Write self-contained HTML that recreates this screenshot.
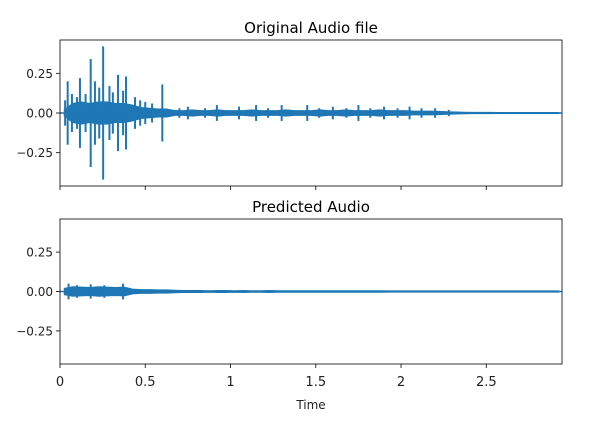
<!DOCTYPE html>
<html><head><meta charset="utf-8">
<style>
body{margin:0;background:#fff;}
svg{display:block;font-family:"DejaVu Sans","Liberation Sans",sans-serif;}
</style></head>
<body>
<svg id="chart" width="607" height="426" viewBox="0 0 607 426"></svg>
<script>
// time grid for envelopes (seconds, step 0.05)
const envStep = 0.05;
const origEnvelope = [0.02,0.06,0.07,0.06,0.07,0.07,0.06,0.06,0.05,0.035,0.03,0.025,0.025,0.015,0.015,0.02,0.015,0.015,0.02,0.015,0.015,0.015,0.02,0.015,0.015,0.015,0.02,0.015,0.015,0.015,0.02,0.015,0.015,0.02,0.015,0.015,0.015,0.02,0.015,0.015,0.015,0.012,0.012,0.012,0.01,0.008,0.006,0.005,0.004,0.004,0.004,0.003,0.003,0.003,0.003,0.003,0.003,0.003,0.003];
const origSpikeTimes = [0.03,0.045,0.07,0.1,0.117,0.15,0.18,0.205,0.23,0.253,0.29,0.31,0.34,0.37,0.387,0.44,0.47,0.5,0.54,0.6,0.7,0.75,0.85,0.92,1.05,1.15,1.22,1.3,1.45,1.52,1.6,1.68,1.75,1.82,1.9,1.98,2.05,2.12,2.2,2.28];
const origSpikeAmps  = [0.08,0.2,0.12,0.1,0.22,0.12,0.34,0.2,0.16,0.42,0.17,0.13,0.24,0.14,0.23,0.1,0.08,0.07,0.06,0.18,0.03,0.04,0.03,0.05,0.04,0.05,0.03,0.05,0.05,0.03,0.04,0.03,0.05,0.03,0.04,0.03,0.04,0.03,0.03,0.02];
const predEnvelope = [0.02,0.03,0.028,0.025,0.03,0.028,0.025,0.028,0.015,0.012,0.012,0.01,0.01,0.008,0.006,0.006,0.006,0.005,0.006,0.006,0.005,0.006,0.005,0.005,0.006,0.005,0.005,0.005,0.005,0.005,0.005,0.005,0.005,0.005,0.005,0.005,0.005,0.005,0.004,0.004,0.004,0.004,0.004,0.004,0.004,0.004,0.004,0.004,0.004,0.004,0.004,0.004,0.004,0.004,0.004,0.004,0.004,0.004,0.004];
const predSpikeTimes = [0.05,0.1,0.18,0.26,0.37];
const predSpikeAmps  = [0.05,0.04,0.045,0.04,0.05];
const xTicks = [0,0.5,1,1.5,2,2.5];
const xTickLabels = ["0","0.5","1","1.5","2","2.5"];
const yTicks = [0.25,0,-0.25];
const yTickLabels = ["0.25","0.00","\u22120.25"];

const svg = document.getElementById('chart');
const NS = 'http://www.w3.org/2000/svg';
const X0 = 60, X1 = 562, TMAX = 2.944;
function xs(t){ return X0 + t/TMAX*(X1-X0); }
function mk(tag, attrs, parent){
  const e = document.createElementNS(NS, tag);
  for (const k in attrs) e.setAttribute(k, attrs[k]);
  (parent||svg).appendChild(e); return e;
}
const panels = [
  {top:40, bot:186, title:"Original Audio file", env:origEnvelope, st:origSpikeTimes, sa:origSpikeAmps, labels:false, name:'original'},
  {top:219, bot:364, title:"Predicted Audio", env:predEnvelope, st:predSpikeTimes, sa:predSpikeAmps, labels:true, name:'predicted'}
];
panels.forEach(p => {
  const g = mk('g', {});
  
  
  const mid = (p.top+p.bot)/2, scale = (p.bot-p.top)/0.92;
  const ys = v => mid - v*scale;
  let up = '', dn = '';
  p.env.forEach((a,i) => {
    const t = Math.min((i+0.5)*envStep, TMAX);
    up += (i? 'L':'M') + xs(t) + ',' + ys(a);
  });
  for (let i = p.env.length-1; i >= 0; i--) {
    const t = Math.min((i+0.5)*envStep, TMAX);
    dn += 'L' + xs(t) + ',' + ys(-p.env[i]);
  }
  const area = mk('path', {d: up + dn + 'Z', fill:'#1f77b4', stroke:'#1f77b4', 'stroke-width':1}, g);
  
  
  const zl = mk('line', {x1:X0, x2:X1, y1:ys(0), y2:ys(0), stroke:'#1f77b4', 'stroke-width':1.5}, g);
  
  
  p.st.forEach((t,i) => {
    const l = mk('line', {x1:xs(t), x2:xs(t), y1:ys(p.sa[i]), y2:ys(-p.sa[i]), stroke:'#1f77b4', 'stroke-width':2}, g);
    
    
  });
  const fr = mk('rect', {x:X0, y:p.top, width:X1-X0, height:p.bot-p.top, fill:'none', stroke:'#000', 'stroke-width':0.8}, g);
  
  
  const tt = mk('text', {x:(X0+X1)/2, y:p.top-7, 'text-anchor':'middle', 'font-size':15, fill:'#000'}, g);
  tt.textContent = p.title;
  
  
  yTicks.forEach((v,i) => {
    mk('line', {x1:X0-4, x2:X0, y1:ys(v), y2:ys(v), stroke:'#000', 'stroke-width':0.8}, g);
    const yl = mk('text', {x:X0-7, y:ys(v)+4.5, 'text-anchor':'end', 'font-size':12, fill:'#222'}, g);
    yl.textContent = yTickLabels[i];
    
    
  });
  xTicks.forEach((v,i) => {
    mk('line', {x1:xs(v), x2:xs(v), y1:p.bot, y2:p.bot+4, stroke:'#000', 'stroke-width':0.8}, g);
    if (p.labels) {
      const xl = mk('text', {x:xs(v), y:p.bot+22, 'text-anchor':'middle', 'font-size':13, fill:'#222'}, g);
      xl.textContent = xTickLabels[i];
      
      
    }
  });
});
const xt = mk('text', {x:(X0+X1)/2, y:409, 'text-anchor':'middle', 'font-size':12, fill:'#222'});
xt.textContent = 'Time';


</script>
</body></html>
